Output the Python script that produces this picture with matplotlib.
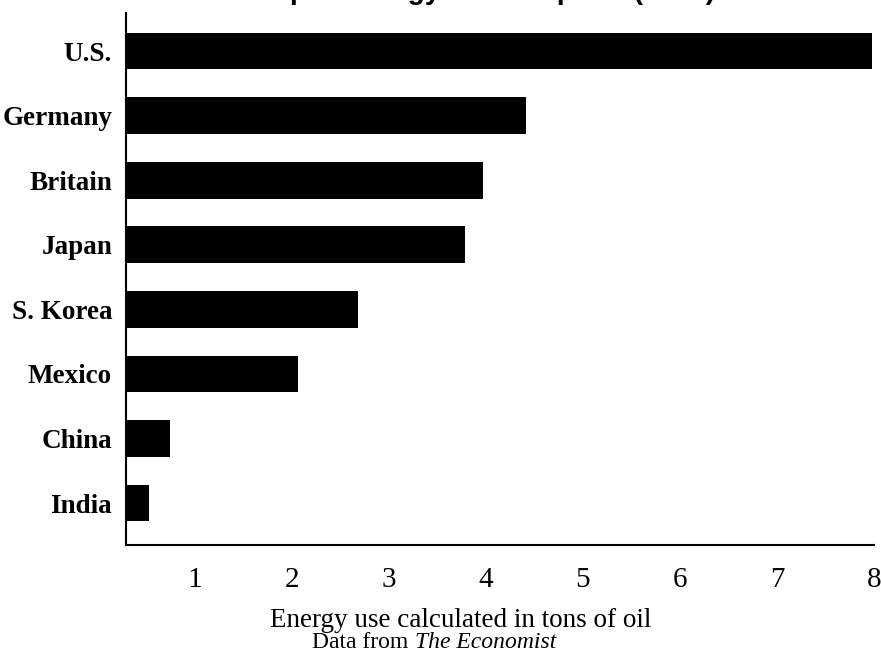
import matplotlib
matplotlib.use('Agg')
import matplotlib.pyplot as plt

# Data
countries = ['U.S.', 'Germany', 'Britain', 'Japan', 'S. Korea', 'Mexico', 'China', 'India']
energy_use = [7.98, 4.41, 3.97, 3.78, 2.68, 2.06, 0.74, 0.53]
xticks = [1, 2, 3, 4, 5, 6, 7, 8]

fig = plt.figure(figsize=(8.81, 6.53), dpi=100)
ax = fig.add_axes([126 / 881, 0.1654, (874 - 126) / 881, 0.8147])

# India at the bottom, U.S. at the top
ypos = list(range(len(countries)))[::-1]
ax.barh(ypos, energy_use, height=0.57, color='black')

ax.set_xlim(0.289, 8.0)
ax.set_ylim(-0.65, 7.59)

ax.set_yticks(ypos)
ax.set_yticklabels(countries, family='Liberation Serif', fontweight='bold', fontsize=19.5)
ax.set_xticks(xticks)
ax.set_xticklabels([str(t) for t in xticks], family='Liberation Serif', fontsize=21)
ax.tick_params(axis='both', length=0)
ax.tick_params(axis='x', pad=16)
ax.tick_params(axis='y', pad=10)

for side in ['top', 'right']:
    ax.spines[side].set_visible(False)
for side in ['left', 'bottom']:
    ax.spines[side].set_linewidth(1.5)
    ax.spines[side].set_color('black')

# Title (only its lower edge shows at the top, as in the source)
fig.text(0.522, 1 + 1 / 653, 'Per capita energy consumption (1994)', ha='center', va='baseline',
         family='Liberation Sans', fontweight='bold', fontsize=20.3)

fig.text(461 / 881, 26 / 653, 'Energy use calculated in tons of oil', ha='center', va='baseline',
         family='Liberation Serif', fontsize=19.5)
fig.text(312 / 881, 5 / 653, 'Data from', ha='left', va='baseline',
         family='Liberation Serif', fontsize=17)
fig.text(415 / 881, 5 / 653, 'The Economist', ha='left', va='baseline',
         family='Liberation Serif', style='italic', fontsize=17)

plt.savefig('out.png', dpi=100)
print("Plot saved as out.png")
